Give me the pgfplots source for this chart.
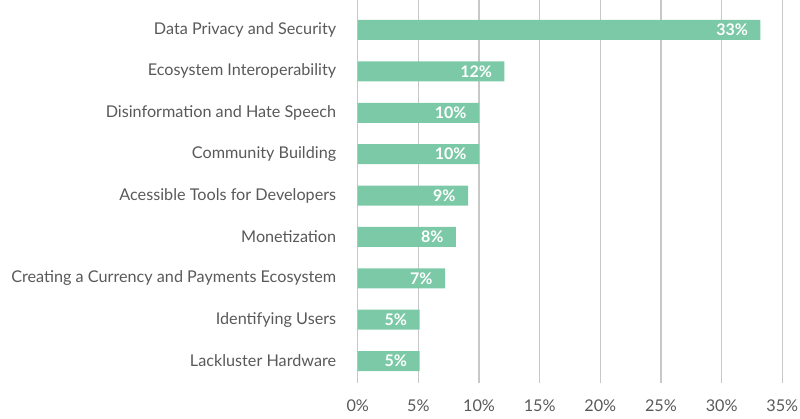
\documentclass[border=0pt]{standalone}
\usepackage{pgfplots}
\pgfplotsset{compat=1.18}
\usepackage{fontspec}
\setmainfont{Lato}
\definecolor{barcol}{HTML}{7CC9A7}
\definecolor{txt}{HTML}{595959}
\definecolor{gridc}{HTML}{C8C8C8}

\begin{document}
\begin{tikzpicture}
\useasboundingbox (-357.7pt,-35pt) rectangle (442.3pt,383pt);
\begin{axis}[
    at={(0,0)}, anchor=south west,
    scale only axis,
    width=424.6pt,
    height=383pt,
    xbar,
    bar width=20pt,
    xmin=0, xmax=35,
    ymin=-0.53, ymax=8.725,
    xtick={0,5,...,35},
    xticklabel={\pgfmathprintnumber{\tick}\%},
    ytick={0,...,8},
    yticklabels={
        Lackluster Hardware,
        Identifying Users,
        Creating a Currency and Payments Ecosystem,
        Monetization,
        Acessible Tools for Developers,
        Community Building,
        Disinformation and Hate Speech,
        Ecosystem Interoperability,
        Data Privacy and Security
    },
    axis line style={draw=none},
    major tick length=0pt,
    xmajorgrids,
    grid style={gridc, line width=1.3pt},
    tick label style={font=\fontsize{16.2}{18}\selectfont, text=txt},
    /pgf/number format/assume math mode=true,
    xticklabel style={yshift=-13pt},
    yticklabel style={xshift=-18pt},
    nodes near coords,
    point meta=explicit symbolic,
    every node near coord/.append style={
        anchor=east, xshift=-9pt, text=white,
        font=\fontsize{16}{18}\selectfont\bfseries},
]
\addplot[fill=barcol, draw=none] coordinates {
    (5.1,0) [5\%]
    (5.1,1) [5\%]
    (7.2,2) [7\%]
    (8.1,3) [8\%]
    (9.1,4) [9\%]
    (10.0,5) [10\%]
    (10.0,6) [10\%]
    (12.1,7) [12\%]
    (33.2,8) [33\%]
};
\end{axis}
\end{tikzpicture}
\end{document}
